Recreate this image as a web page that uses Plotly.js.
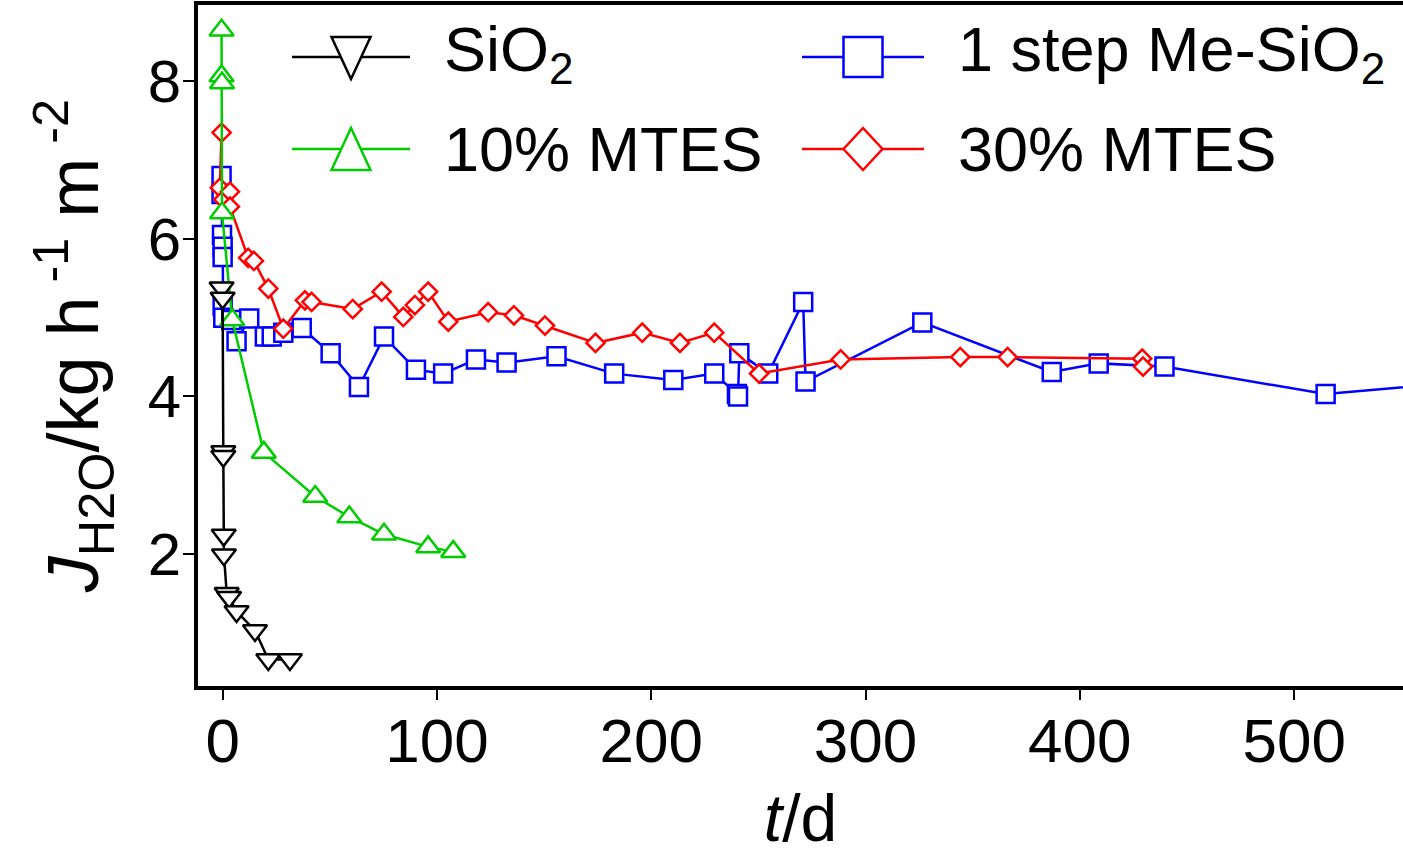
<!DOCTYPE html>
<html>
<head>
<meta charset="utf-8">
<script src="https://cdn.plot.ly/plotly-3.0.1.min.js"></script>
<style>html,body{margin:0;padding:0;background:#fff;}#chart{width:1403px;height:855px;}</style>
</head>
<body>
<div id="chart"></div>
<script>
// ---- data (t in days, J in kg h^-1 m^-2) ----
const seriesNames = ["SiO<sub>2</sub>", "10% MTES", "1 step Me-SiO<sub>2</sub>", "30% MTES"];

const t_SiO2 = [-0.5, 0, 0.3, 0.3, 0.5, 0.6, 1.9, 3.0, 6.5, 15.1, 21.3, 31.4];
const J_SiO2 = [5.38, 5.25, 3.30, 3.24, 2.24, 1.99, 1.50, 1.45, 1.27, 1.03, 0.66, 0.66];

const t_MTES10 = [-0.5, -0.5, -0.3, -0.3, 4.5, 19.2, 43.2, 59.1, 75.3, 95.9, 107.6];
const J_MTES10 = [8.65, 8.07, 7.98, 6.33, 4.97, 3.29, 2.73, 2.47, 2.25, 2.09, 2.03];

const t_MeSiO2 = [-0.5, -0.5, -0.3, 0, 0, 0, 0.3, 4.0, 6.5, 12.4, 19.7, 22.9, 28.3, 36.9, 50.4, 63.6, 75.3, 90.2, 102.9, 118.2, 132.5, 155.8, 182.7, 210.3, 229.4, 240.0, 240.5, 241.1, 254.6, 270.9, 272.0, 326.5, 386.9, 408.8, 439.5, 514.7, 580];
const J_MeSiO2 = [6.80, 6.57, 6.05, 5.90, 5.77, 5.15, 5.00, 4.97, 4.70, 4.99, 4.76, 4.76, 4.81, 4.87, 4.55, 4.12, 4.76, 4.34, 4.29, 4.47, 4.43, 4.51, 4.29, 4.21, 4.29, 4.03, 4.00, 4.55, 4.29, 5.20, 4.19, 4.94, 4.31, 4.42, 4.38, 4.03, 4.19];

const t_MTES30 = [-0.5, -1.3, 0.3, 3.4, 3.4, 11.9, 14.6, 21.3, 28.3, 38.4, 41.5, 60.7, 74.2, 84.3, 89.7, 95.9, 105.3, 123.9, 135.9, 150.4, 174.0, 195.8, 213.4, 229.4, 250.3, 288.4, 344.2, 366.3, 429.1, 429.5];
const J_MTES30 = [7.35, 6.65, 6.50, 6.60, 6.41, 5.76, 5.72, 5.37, 4.86, 5.22, 5.20, 5.11, 5.33, 5.01, 5.16, 5.33, 4.95, 5.07, 5.03, 4.90, 4.68, 4.81, 4.68, 4.81, 4.29, 4.47, 4.50, 4.50, 4.48, 4.38];

const xTickVals = [0, 100, 200, 300, 400, 500];
const yTickVals = [2, 4, 6, 8];

// ---- styling ----
const FONT = "Liberation Sans, Arial, Helvetica, sans-serif";
const cBlack = "#000000", cGreen = "#00cc00", cBlue = "#0000ff", cRed = "#ff0000";

function tr(x, y, name, color, symbol, size) {
  return {
    x: x, y: y, name: name, type: "scatter", mode: "lines+markers",
    line: {color: color, width: 2.5},
    marker: {symbol: symbol, size: size, color: "#ffffff", line: {color: color, width: 2.5}},
    showlegend: false, cliponaxis: true
  };
}

const traces = [
  tr(t_MeSiO2, J_MeSiO2, seriesNames[2], cBlue, "square", 18),
  tr(t_MTES30, J_MTES30, seriesNames[3], cRed, "diamond", 14),
  tr(t_MTES10, J_MTES10, seriesNames[1], cGreen, "triangle-up", 21),
  tr(t_SiO2, J_SiO2, seriesNames[0], cBlack, "triangle-down", 21)
];

// ---- custom legend (pixel geometry converted to paper coords) ----
const W = 1403, H = 855, ML = 198, MR = 0, MT = 5, MB = 169;
const PW = W - ML - MR, PH = H - MT - MB;
const px = v => (v - ML) / PW;
const py = v => (H - MB - v) / PH;

const legendItems = [
  {name: seriesNames[0], color: cBlack, sym: "tdown", lx0: 292, lx1: 410, mx: 351, ty: 57, tx: 442},
  {name: seriesNames[1], color: cGreen, sym: "tup", lx0: 292, lx1: 410, mx: 351, ty: 149, tx: 442},
  {name: seriesNames[2], color: cBlue, sym: "square", lx0: 802, lx1: 924, mx: 863, ty: 57, tx: 956},
  {name: seriesNames[3], color: cRed, sym: "diamond", lx0: 802, lx1: 924, mx: 863, ty: 149, tx: 956}
];
const symPaths = {
  tdown: "M-19.5,20 L19.5,20 L0,-22 Z",
  tup: "M-19.5,-21 L19.5,-21 L0,21 Z",
  square: "M-19.5,-20 L19.5,-20 L19.5,20 L-19.5,20 Z",
  diamond: "M0,-21 L19.5,0 L0,21 L-19.5,0 Z"
};
const shapes = [];
const annotations = [];
legendItems.forEach(it => {
  shapes.push({type: "line", xref: "paper", yref: "paper", x0: px(it.lx0), x1: px(it.lx1), y0: py(it.ty), y1: py(it.ty),
               line: {color: it.color, width: 2.5}});
  shapes.push({type: "path", xref: "paper", yref: "paper", xsizemode: "pixel", ysizemode: "pixel",
               xanchor: px(it.mx), yanchor: py(it.ty), path: symPaths[it.sym],
               fillcolor: "#ffffff", line: {color: it.color, width: 2.5}});
  const hasSub = it.name.indexOf("<sub>") >= 0;
  annotations.push({xref: "paper", yref: "paper", x: px(it.tx), y: py(it.ty), xanchor: "left", yanchor: "middle",
                    text: it.name, showarrow: false, yshift: hasSub ? 4 : 0,
                    font: {family: FONT, size: 63, color: "#000"}});
});

const layout = {
  width: W, height: H,
  margin: {l: ML, r: MR, t: MT, b: MB, pad: 0},
  paper_bgcolor: "#ffffff", plot_bgcolor: "#ffffff",
  font: {family: FONT, color: "#000"},
  showlegend: false,
  xaxis: {
    range: [-11.5, 550.8], tickvals: xTickVals, ticktext: xTickVals.map(String),
    showgrid: false, zeroline: false,
    showline: true, linecolor: "#000", linewidth: 4, mirror: true,
    ticks: "outside", ticklen: 10, tickwidth: 2, tickcolor: "#000",
    tickfont: {family: FONT, size: 62, color: "#000"}, ticklabelstandoff: -12,
    title: {text: "<i>t</i>/d", font: {family: FONT, size: 66, color: "#000"}, standoff: 24}
  },
  yaxis: {
    range: [0.324, 8.97], tickvals: yTickVals, ticktext: yTickVals.map(String),
    showgrid: false, zeroline: false,
    showline: true, linecolor: "#000", linewidth: 4, mirror: true,
    ticks: "outside", ticklen: 11, tickwidth: 2, tickcolor: "#000",
    tickfont: {family: FONT, size: 60, color: "#000"}, ticklabelstandoff: -10,
    title: {text: "<i>J</i><sub>H2O</sub>/kg h<sup> -1</sup> m<sup> -2</sup>", font: {family: FONT, size: 72, color: "#000"}, standoff: 26}
  },
  shapes: shapes,
  annotations: annotations
};

Plotly.newPlot("chart", traces, layout, {displayModeBar: false, staticPlot: true});
</script>
</body>
</html>
